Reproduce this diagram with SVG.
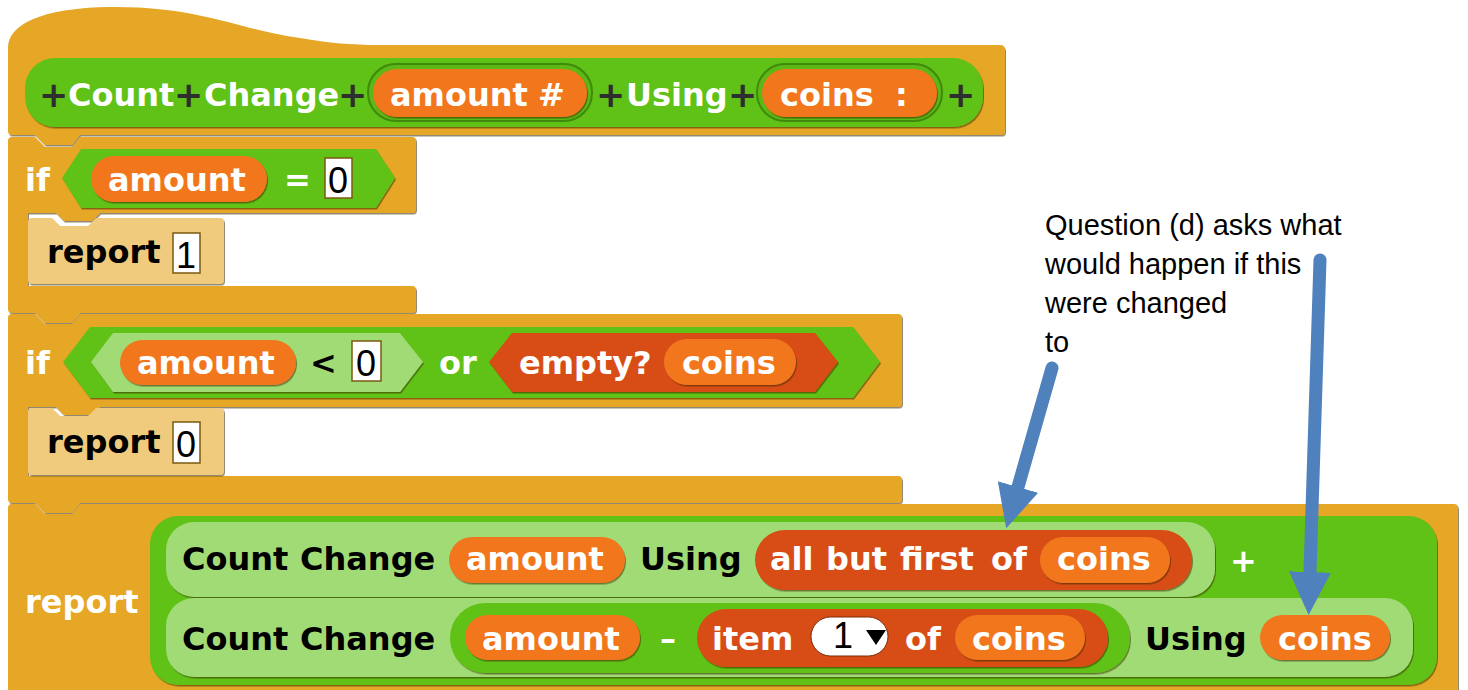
<svg xmlns="http://www.w3.org/2000/svg" width="1468" height="690" viewBox="0 0 1468 690">
<defs>
<style>
.ctl{fill:#E6A726}
.tan{fill:#F0CB7E}
.grn{fill:#60C116}
.lg{fill:#A0DB74}
.var{fill:#F2761F}
.lst{fill:#D84D12}
.box{fill:#fff;stroke:#7a5a10;stroke-width:1.5}
.w{fill:#fff;font-family:"DejaVu Sans",sans-serif;font-weight:bold;font-size:32px}
.b{fill:#000;font-family:"DejaVu Sans",sans-serif;font-weight:bold;font-size:32px}
.pl{fill:#2e2e2e;font-family:"DejaVu Sans",sans-serif;font-weight:bold;font-size:35px}
.d{fill:#000;font-family:"Liberation Sans",Arial,sans-serif;font-size:36px}
.note{fill:#000;font-family:"Liberation Sans",Arial,sans-serif;font-size:29px}
.sh{filter:url(#sh)}
.arr{fill:none;stroke:#4F81BD;stroke-width:13;stroke-linecap:round}
</style>
<filter id="sh" x="-5%" y="-10%" width="110%" height="125%">
<feDropShadow dx="1" dy="1.5" stdDeviation="0.4" flood-color="#3a2a00" flood-opacity="0.55"/>
</filter>
<marker id="ah" markerUnits="userSpaceOnUse" markerWidth="44" markerHeight="44" viewBox="0 -21 42 42" refX="0" refY="0" orient="auto">
<path d="M0,-20 L41,0 L0,20 Z" fill="#4F81BD"/>
</marker>
</defs>
<rect width="1468" height="690" fill="#fff"/>

<g id="hat">
<path class="ctl sh" d="M8,131 L8,48 C8,25 40,8 110,7 C200,6 240,30 300,38 C330,43 350,45 380,45 L1000,45 Q1005,45 1005,50 L1005,131 Q1005,135 1001,135 L80,135 L72,145 L45,145 L35,135 L12,135 Q8,135 8,131 Z"/>
<rect class="grn sh" x="25" y="58" width="958" height="69" rx="30"/>
<rect x="368" y="64" width="224" height="57" rx="28" fill="#5cb815" stroke="#3f8a0c" stroke-width="2"/>
<rect class="var sh" x="373" y="69" width="214" height="48" rx="24"/>
<rect x="757" y="64" width="185" height="57" rx="28" fill="#5cb815" stroke="#3f8a0c" stroke-width="2"/>
<rect class="var sh" x="762" y="69" width="175" height="48" rx="24"/>
<text class="pl" x="39" y="107">+</text>
<text class="w" x="68" y="106">Count</text>
<text class="pl" x="174" y="107">+</text>
<text class="w" x="204" y="106">Change</text>
<text class="pl" x="338" y="107">+</text>
<text class="w" x="390" y="106">amount</text>
<text class="w" x="538" y="106">#</text>
<text class="pl" x="596" y="107">+</text>
<text class="w" x="626" y="106">Using</text>
<text class="pl" x="728" y="107">+</text>
<text class="w" x="780" y="106">coins</text>
<text class="w" x="895" y="106">:</text>
<text class="pl" x="946" y="107">+</text>
</g>

<g id="if1">
<path class="ctl sh" d="M8,141 Q8,137 12,137 L35,137 L45,147 L72,147 L80,137 L412,137 Q416,137 416,141 L416,209 Q416,213 412,213 L100,213 L92,221 L64,221 L56,213 L28,213 L28,286 L412,286 Q416,286 416,290 L416,309 Q416,313 412,313 L80,313 L72,323 L45,323 L35,313 L12,313 Q8,313 8,309 Z"/>
<polygon class="grn sh" points="62,178 81,149 376,149 395,178 376,208 81,208"/>
<rect class="var sh" x="91" y="156" width="176" height="46" rx="23"/>
<text class="w" x="25" y="191">if</text>
<text class="w" x="108" y="191">amount</text>
<text class="w" x="284" y="191">=</text>
<rect class="box" x="325" y="158" width="27" height="40"/>
<text class="d" x="328" y="193">0</text>
</g>

<g id="report1">
<path class="tan sh" d="M28,222 Q28,218 32,218 L52,218 L60,226 L88,226 L96,218 L220,218 Q224,218 224,222 L224,280 Q224,284 220,284 L32,284 Q28,284 28,280 Z"/>
<text class="b" x="47" y="263">report</text>
<rect class="box" x="173" y="233" width="27" height="40"/>
<text class="d" x="176" y="268">1</text>
</g>

<g id="if2">
<path class="ctl sh" d="M8,318 Q8,314 12,314 L35,314 L45,324 L72,324 L80,314 L898,314 Q902,314 902,318 L902,403 Q902,407 898,407 L100,407 L92,415 L64,415 L56,407 L28,407 L28,476 L898,476 Q902,476 902,480 L902,499 Q902,503 898,503 L80,503 L72,513 L45,513 L35,503 L12,503 Q8,503 8,499 Z"/>
<polygon class="grn sh" points="63,362 90,327 853,327 880,362 853,398 90,398"/>
<polygon class="lg sh" points="91,362 113,333 400,333 423,362 400,392 113,392"/>
<rect class="var sh" x="120" y="340" width="176" height="45" rx="22.5"/>
<text class="w" x="25" y="374">if</text>
<text class="w" x="137" y="374">amount</text>
<text class="b" x="310" y="374">&lt;</text>
<rect class="box" x="352" y="341" width="29" height="40"/>
<text class="d" x="356" y="376">0</text>
<text class="w" x="439" y="374">or</text>
<polygon class="lst sh" points="489,362 512,333 815,333 838,362 815,392 512,392"/>
<text class="w" x="519" y="374">empty?</text>
<rect class="var sh" x="664" y="339" width="132" height="46" rx="23"/>
<text class="w" x="682" y="374">coins</text>
</g>

<g id="report0">
<path class="tan sh" d="M28,412 Q28,408 32,408 L52,408 L60,416 L88,416 L96,408 L220,408 Q224,408 224,412 L224,471 Q224,475 220,475 L32,475 Q28,475 28,471 Z"/>
<text class="b" x="47" y="453">report</text>
<rect class="box" x="173" y="422" width="27" height="41"/>
<text class="d" x="176" y="457">0</text>
</g>

<g id="report-sum">
<path class="ctl sh" d="M8,508 Q8,504 12,504 L35,504 L45,514 L72,514 L80,504 L1454,504 Q1458,504 1458,508 L1458,700 L8,700 Z"/>
<text class="w" x="25" y="613">report</text>
<rect class="grn sh" x="150" y="516" width="1287" height="169" rx="28"/>
<rect class="lg sh" x="166" y="522" width="1049" height="75" rx="28"/>
<rect class="lg sh" x="166" y="598" width="1247" height="79" rx="28"/>
<text class="b" x="182" y="570">Count</text>
<text class="b" x="300" y="570">Change</text>
<rect class="var sh" x="449" y="537" width="176" height="46" rx="23"/>
<text class="w" x="466" y="570">amount</text>
<text class="b" x="640" y="570">Using</text>
<rect class="lst sh" x="755" y="530" width="437" height="60" rx="30"/>
<text class="w" x="770" y="570">all</text>
<text class="w" x="826" y="570">but</text>
<text class="w" x="900" y="570">first</text>
<text class="w" x="991" y="570">of</text>
<rect class="var sh" x="1040" y="537" width="130" height="46" rx="23"/>
<text class="w" x="1057" y="570">coins</text>
<text class="w" x="1230" y="572">+</text>
<text class="b" x="182" y="650">Count</text>
<text class="b" x="300" y="650">Change</text>
<rect class="grn sh" x="450" y="603" width="680" height="70" rx="35"/>
<rect class="var sh" x="465" y="615" width="175" height="45" rx="22.5"/>
<text class="w" x="482" y="650">amount</text>
<text class="w" x="660" y="650">–</text>
<rect class="lst sh" x="697" y="609" width="411" height="58" rx="29"/>
<text class="w" x="712" y="650">item</text>
<rect x="811" y="617" width="77" height="39" rx="19.5" fill="#fff" stroke="#7a2a05" stroke-width="1"/>
<text class="d" x="833" y="648" font-size="30">1</text>
<polygon points="866,630 886,630 876,645" fill="#000"/>
<text class="w" x="905" y="650">of</text>
<rect class="var sh" x="955" y="615" width="130" height="45" rx="22.5"/>
<text class="w" x="972" y="650">coins</text>
<text class="b" x="1145" y="650">Using</text>
<rect class="var sh" x="1260" y="615" width="130" height="45" rx="22.5"/>
<text class="w" x="1278" y="650">coins</text>
</g>

<g id="note">
<text class="note" x="1045" y="235">Question (d) asks what</text>
<text class="note" x="1045" y="274">would happen if this</text>
<text class="note" x="1045" y="313">were changed</text>
<text class="note" x="1045" y="352">to</text>
</g>

<g id="connectors">
<path class="arr" d="M1052,368 L1018,487" marker-end="url(#ah)"/>
<path class="arr" d="M1320,260 L1310,572" marker-end="url(#ah)"/>
</g>
</svg>
